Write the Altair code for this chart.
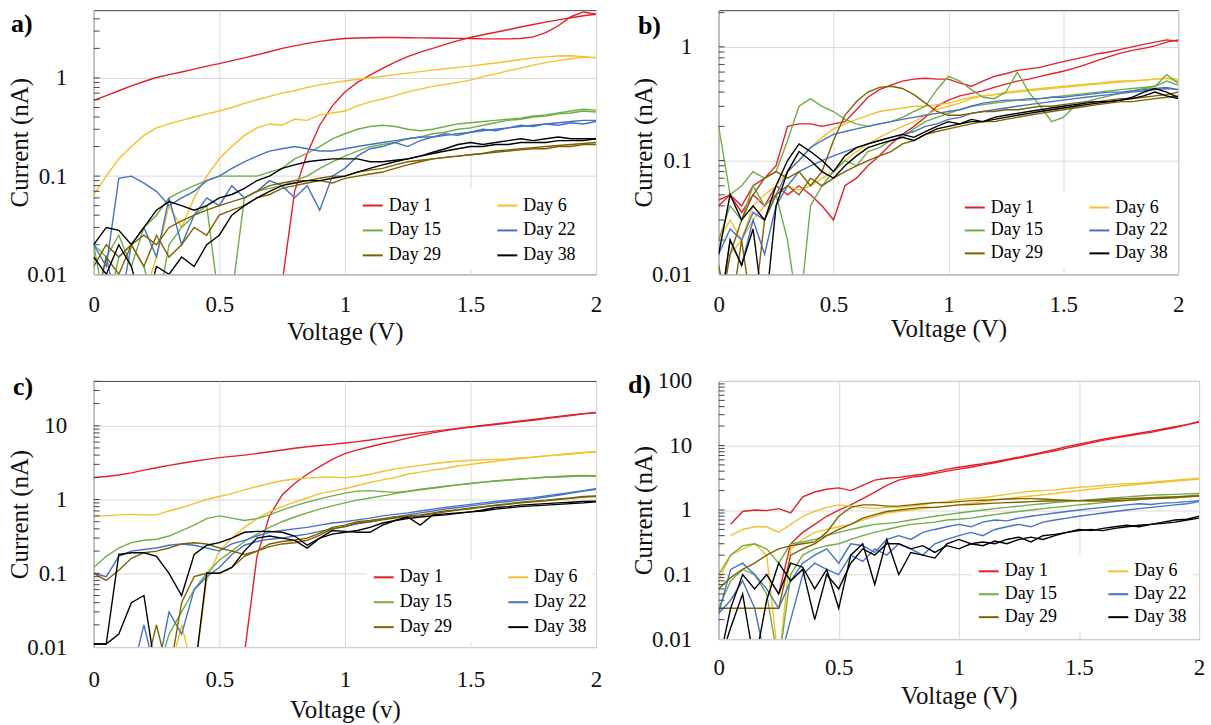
import altair as alt
import pandas as pd

FONT = "Liberation Serif, Times New Roman, DejaVu Serif, serif"
L = 0.004  # reading below the 0.01 floor (drawn off the bottom edge)

V = [0.0, 0.05, 0.1, 0.15, 0.2, 0.25, 0.3, 0.35, 0.4, 0.45,
     0.5, 0.55, 0.6, 0.65, 0.7, 0.75, 0.8, 0.85, 0.9, 0.95,
     1.0, 1.05, 1.1, 1.15, 1.2, 1.25, 1.3, 1.35, 1.4, 1.45,
     1.5, 1.55, 1.6, 1.65, 1.7, 1.75, 1.8, 1.85, 1.9, 1.95,
     2.0]

# legend reads row-wise: Day 1 | Day 6, Day 15 | Day 22, Day 29 | Day 38
LEGEND_ORDER = ["Day 1", "Day 15", "Day 29", "Day 6", "Day 22", "Day 38"]
LEGEND_COLORS = ["#e3202a", "#70ad47", "#7f6000", "#f2c12e", "#4472c4", "#000000"]
X_TICKS = [0, 0.5, 1, 1.5, 2]

# ---------------- panel a ----------------
A_D1_REV = [0.59, 0.66, 0.74, 0.83, 0.92, 1.01, 1.08, 1.15, 1.23, 1.32,
            1.40, 1.50, 1.60, 1.72, 1.85, 2.00, 2.12, 2.25, 2.36, 2.45,
            2.52, 2.55, 2.57, 2.58, 2.58, 2.57, 2.56, 2.55, 2.54, 2.53,
            2.52, 2.50, 2.50, 2.50, 2.52, 2.62, 2.90, 3.40, 4.20, 4.70,
            4.45]
A_D1_FWD = [L, L, L, L, L, L, L, L, L, L,
            L, L, L, L, L, 0.008, 0.07, 0.17, 0.33, 0.52,
            0.72, 0.90, 1.07, 1.25, 1.45, 1.65, 1.83, 2.00, 2.20, 2.40,
            2.58, 2.75, 2.92, 3.10, 3.30, 3.50, 3.70, 3.90, 4.10, 4.30,
            4.45]
A_D6_REV = [0.065, 0.10, 0.15, 0.20, 0.26, 0.31, 0.34, 0.37, 0.40, 0.43,
            0.46, 0.50, 0.55, 0.60, 0.65, 0.70, 0.74, 0.80, 0.85, 0.89,
            0.93, 0.97, 1.00, 1.04, 1.08, 1.12, 1.16, 1.20, 1.24, 1.28,
            1.32, 1.37, 1.42, 1.48, 1.54, 1.60, 1.64, 1.67, 1.68, 1.65,
            1.60]
A_D6_FWD = [L, L, L, L, 0.006, 0.015, 0.05, 0.03, 0.06, 0.10,
            0.15, 0.20, 0.26, 0.31, 0.34, 0.33, 0.38, 0.37, 0.42, 0.44,
            0.46, 0.52, 0.57, 0.61, 0.66, 0.72, 0.77, 0.82, 0.86, 0.90,
            0.95, 1.03, 1.10, 1.18, 1.26, 1.35, 1.43, 1.50, 1.57, 1.62,
            1.62]
A_D15_REV = [0.02, 0.015, 0.025, 0.012, 0.03, 0.04, 0.06, 0.07, 0.08, 0.09,
             0.10, 0.10, 0.10, 0.10, 0.11, 0.12, 0.15, 0.17, 0.20, 0.24,
             0.27, 0.30, 0.32, 0.33, 0.32, 0.30, 0.29, 0.30, 0.32, 0.34,
             0.35, 0.36, 0.37, 0.38, 0.39, 0.41, 0.42, 0.44, 0.46, 0.48,
             0.47]
A_D15_FWD = [0.02, L, 0.015, 0.02, 0.012, L, 0.02, 0.03, 0.04, 0.05,
             0.005, 0.006, 0.06, 0.07, 0.075, 0.08, 0.09, 0.10, 0.12, 0.14,
             0.16, 0.18, 0.20, 0.21, 0.22, 0.24, 0.25, 0.27, 0.28, 0.30,
             0.31, 0.33, 0.35, 0.37, 0.38, 0.40, 0.41, 0.43, 0.44, 0.46,
             0.45]
A_D22_REV = [0.02, 0.012, 0.095, 0.10, 0.085, 0.07, 0.05, 0.06, 0.07, 0.09,
             0.10, 0.12, 0.14, 0.16, 0.18, 0.19, 0.20, 0.19, 0.18, 0.18,
             0.19, 0.20, 0.21, 0.22, 0.23, 0.24, 0.25, 0.25, 0.26, 0.27,
             0.28, 0.29, 0.30, 0.31, 0.32, 0.33, 0.34, 0.35, 0.36, 0.37,
             0.37]
A_D22_FWD = [L, 0.015, L, 0.02, 0.03, 0.015, 0.06, 0.02, 0.04, 0.06,
             0.05, 0.08, 0.06, 0.07, 0.09, 0.08, 0.06, 0.08, 0.045, 0.10,
             0.12, 0.16, 0.19, 0.20, 0.22, 0.20, 0.23, 0.25, 0.27, 0.26,
             0.28, 0.30, 0.29, 0.31, 0.33, 0.32, 0.34, 0.33, 0.35, 0.34,
             0.36]
A_D29_REV = [0.012, 0.02, 0.015, 0.02, 0.025, 0.02, 0.03, 0.035, 0.04, 0.045,
             0.05, 0.055, 0.06, 0.07, 0.08, 0.085, 0.09, 0.09, 0.095, 0.10,
             0.10, 0.11, 0.115, 0.12, 0.13, 0.14, 0.145, 0.15, 0.155, 0.16,
             0.165, 0.17, 0.18, 0.185, 0.19, 0.195, 0.20, 0.205, 0.21, 0.215,
             0.22]
A_D29_FWD = [L, 0.015, 0.01, 0.02, 0.012, 0.025, 0.015, 0.02, 0.03, 0.025,
             0.04, 0.045, 0.05, 0.06, 0.065, 0.075, 0.08, 0.085, 0.09, 0.085,
             0.095, 0.10, 0.105, 0.11, 0.12, 0.13, 0.14, 0.15, 0.155, 0.16,
             0.165, 0.17, 0.175, 0.18, 0.185, 0.19, 0.19, 0.20, 0.20, 0.21,
             0.21]
A_D38_REV = [0.02, 0.03, 0.028, 0.02, 0.03, 0.045, 0.055, 0.05, 0.045, 0.05,
             0.06, 0.065, 0.075, 0.09, 0.10, 0.12, 0.13, 0.14, 0.145, 0.15,
             0.15, 0.15, 0.14, 0.14, 0.145, 0.15, 0.16, 0.175, 0.19, 0.21,
             0.22, 0.21, 0.22, 0.23, 0.24, 0.23, 0.24, 0.25, 0.24, 0.24,
             0.24]
A_D38_FWD = [0.015, 0.01, 0.02, 0.012, L, 0.012, 0.01, 0.015, 0.012, 0.02,
             0.025, 0.04, 0.05, 0.06, 0.07, 0.08, 0.085, 0.09, 0.09, 0.095,
             0.10, 0.11, 0.12, 0.13, 0.14, 0.15, 0.16, 0.17, 0.18, 0.19,
             0.20, 0.20, 0.21, 0.21, 0.22, 0.22, 0.22, 0.23, 0.23, 0.23,
             0.24]

# ---------------- panel b ----------------
B_D1_REV = [0.045, 0.05, 0.04, 0.06, 0.07, 0.09, 0.20, 0.21, 0.21, 0.20,
            0.21, 0.22, 0.28, 0.36, 0.42, 0.46, 0.50, 0.52, 0.53, 0.52,
            0.52, 0.48, 0.45, 0.50, 0.55, 0.58, 0.62, 0.64, 0.66, 0.70,
            0.74, 0.78, 0.82, 0.87, 0.90, 0.95, 1.00, 1.05, 1.10, 1.15,
            1.12]
B_D1_FWD = [0.04, 0.05, 0.035, 0.05, 0.04, 0.06, 0.05, 0.06, 0.05, 0.04,
            0.03, 0.06, 0.07, 0.09, 0.11, 0.14, 0.17, 0.20, 0.24, 0.30,
            0.34, 0.37, 0.39, 0.41, 0.44, 0.47, 0.50, 0.52, 0.55, 0.58,
            0.61, 0.65, 0.70, 0.76, 0.82, 0.88, 0.93, 0.97, 1.02, 1.10,
            1.15]
B_D6_REV = [0.02, 0.03, 0.02, 0.04, 0.05, 0.06, 0.08, 0.10, 0.13, 0.16,
            0.19, 0.21, 0.23, 0.25, 0.27, 0.28, 0.29, 0.30, 0.30, 0.31,
            0.32, 0.34, 0.36, 0.37, 0.38, 0.39, 0.40, 0.41, 0.42, 0.43,
            0.44, 0.45, 0.46, 0.47, 0.48, 0.49, 0.50, 0.51, 0.52, 0.53,
            0.50]
B_D6_FWD = [L, 0.015, 0.02, 0.03, 0.04, 0.05, 0.06, 0.055, 0.06, 0.07,
            0.08, 0.10, 0.12, 0.14, 0.16, 0.18, 0.20, 0.22, 0.25, 0.28,
            0.30, 0.32, 0.35, 0.37, 0.38, 0.40, 0.41, 0.42, 0.43, 0.44,
            0.45, 0.46, 0.47, 0.48, 0.49, 0.50, 0.50, 0.51, 0.52, 0.53,
            0.52]
B_D15_REV = [0.20, 0.05, 0.06, 0.08, 0.07, 0.08, 0.15, 0.30, 0.35, 0.30,
             0.27, 0.23, 0.21, 0.20, 0.21, 0.22, 0.24, 0.27, 0.30, 0.42,
             0.55, 0.50, 0.42, 0.36, 0.35, 0.40, 0.60, 0.40, 0.30, 0.22,
             0.24, 0.30, 0.33, 0.35, 0.37, 0.39, 0.41, 0.43, 0.45, 0.57,
             0.48]
B_D15_FWD = [0.02, 0.04, 0.03, 0.06, 0.04, 0.05, 0.02, L, 0.04, 0.06,
             0.08, 0.10, 0.09, 0.12, 0.13, 0.15, 0.16, 0.19, 0.22, 0.24,
             0.26, 0.28, 0.30, 0.31, 0.32, 0.33, 0.34, 0.34, 0.35, 0.36,
             0.37, 0.38, 0.39, 0.40, 0.41, 0.42, 0.43, 0.44, 0.45, 0.50,
             0.46]
B_D22_REV = [0.015, 0.025, 0.02, 0.035, 0.03, 0.05, 0.08, 0.10, 0.13, 0.15,
             0.17, 0.18, 0.19, 0.20, 0.21, 0.22, 0.23, 0.24, 0.25, 0.26,
             0.27, 0.28, 0.30, 0.32, 0.33, 0.34, 0.34, 0.35, 0.35, 0.36,
             0.36, 0.37, 0.38, 0.39, 0.40, 0.40, 0.41, 0.42, 0.43, 0.44,
             0.42]
B_D22_FWD = [L, 0.02, 0.012, 0.03, 0.015, 0.04, 0.06, 0.08, 0.09, 0.10,
             0.11, 0.12, 0.13, 0.14, 0.15, 0.16, 0.17, 0.18, 0.20, 0.21,
             0.23, 0.24, 0.26, 0.27, 0.28, 0.29, 0.30, 0.31, 0.32, 0.33,
             0.34, 0.35, 0.36, 0.37, 0.38, 0.39, 0.40, 0.41, 0.42, 0.43,
             0.42]
B_D29_REV = [L, 0.015, 0.03, 0.05, 0.07, 0.08, 0.07, 0.08, 0.06, 0.08,
             0.15, 0.25, 0.33, 0.40, 0.44, 0.45, 0.43, 0.38, 0.32, 0.27,
             0.25, 0.25, 0.26, 0.27, 0.27, 0.28, 0.28, 0.29, 0.30, 0.30,
             0.31, 0.32, 0.33, 0.33, 0.34, 0.35, 0.35, 0.36, 0.37, 0.38,
             0.40]
B_D29_FWD = [0.012, L, 0.02, L, 0.03, 0.05, 0.06, 0.05, 0.07, 0.06,
             0.07, 0.08, 0.09, 0.10, 0.11, 0.12, 0.14, 0.15, 0.17, 0.18,
             0.19, 0.20, 0.21, 0.22, 0.22, 0.23, 0.24, 0.25, 0.26, 0.27,
             0.28, 0.29, 0.30, 0.31, 0.32, 0.33, 0.33, 0.34, 0.35, 0.36,
             0.37]
B_D38_REV = [0.015, 0.05, 0.03, 0.04, 0.03, 0.06, 0.10, 0.14, 0.12, 0.10,
             0.08, 0.11, 0.13, 0.14, 0.15, 0.16, 0.17, 0.16, 0.18, 0.20,
             0.22, 0.21, 0.23, 0.22, 0.24, 0.25, 0.26, 0.27, 0.28, 0.29,
             0.30, 0.31, 0.32, 0.33, 0.33, 0.34, 0.36, 0.40, 0.43, 0.40,
             0.36]
B_D38_FWD = [L, 0.02, 0.012, 0.025, L, 0.04, 0.08, 0.12, 0.10, 0.08,
             0.07, 0.09, 0.11, 0.13, 0.14, 0.15, 0.16, 0.15, 0.17, 0.19,
             0.20, 0.21, 0.22, 0.22, 0.23, 0.24, 0.25, 0.26, 0.27, 0.28,
             0.29, 0.30, 0.31, 0.32, 0.33, 0.34, 0.35, 0.37, 0.40, 0.37,
             0.35]

# ---------------- panel c ----------------
C_D1_REV = [1.98, 2.05, 2.15, 2.30, 2.50, 2.70, 2.90, 3.10, 3.30, 3.50,
            3.70, 3.85, 4.00, 4.20, 4.45, 4.70, 4.95, 5.20, 5.40, 5.60,
            5.85, 6.10, 6.40, 6.80, 7.20, 7.60, 8.00, 8.40, 8.80, 9.20,
            9.60, 10.0, 10.4, 10.9, 11.4, 11.9, 12.5, 13.1, 13.8, 14.5,
            15.0]
C_D1_FWD = [L, L, L, L, L, L, L, L, L, L,
            L, L, 0.008, 0.17, 0.60, 1.15, 1.65, 2.20, 2.80, 3.50,
            4.20, 4.70, 5.20, 5.70, 6.20, 6.80, 7.40, 8.00, 8.60, 9.10,
            9.60, 10.1, 10.6, 11.1, 11.6, 12.2, 12.8, 13.4, 14.0, 14.6,
            15.2]
C_D6_REV = [0.60, 0.60, 0.62, 0.63, 0.62, 0.62, 0.70, 0.78, 0.88, 1.00,
            1.10, 1.20, 1.35, 1.50, 1.65, 1.80, 1.90, 1.95, 2.00, 2.00,
            1.98, 2.05, 2.20, 2.40, 2.60, 2.75, 2.90, 3.05, 3.20, 3.30,
            3.40, 3.45, 3.50, 3.55, 3.65, 3.75, 3.90, 4.00, 4.15, 4.30,
            4.40]
C_D6_FWD = [L, L, L, L, L, L, L, 0.02, L, 0.08,
            0.20, 0.30, 0.42, 0.55, 0.68, 0.80, 0.92, 1.05, 1.20, 1.30,
            1.40, 1.55, 1.70, 1.85, 2.00, 2.20, 2.35, 2.50, 2.65, 2.85,
            3.00, 3.15, 3.30, 3.45, 3.60, 3.75, 3.90, 4.05, 4.20, 4.35,
            4.50]
C_D15_REV = [0.12, 0.17, 0.22, 0.26, 0.28, 0.29, 0.32, 0.38, 0.45, 0.55,
             0.60, 0.56, 0.52, 0.55, 0.62, 0.72, 0.82, 0.92, 1.02, 1.12,
             1.22, 1.30, 1.32, 1.28, 1.25, 1.30, 1.38, 1.45, 1.52, 1.58,
             1.65, 1.72, 1.78, 1.84, 1.90, 1.95, 2.00, 2.02, 2.05, 2.10,
             2.05]
C_D15_FWD = [L, L, L, L, L, L, 0.015, 0.03, 0.06, 0.10,
             0.15, 0.20, 0.27, 0.34, 0.42, 0.50, 0.58, 0.66, 0.74, 0.82,
             0.90, 0.98, 1.05, 1.12, 1.20, 1.28, 1.35, 1.42, 1.50, 1.58,
             1.65, 1.72, 1.78, 1.84, 1.90, 1.95, 2.00, 2.05, 2.10, 2.12,
             2.10]
C_D22_REV = [0.10, 0.09, 0.17, 0.20, 0.21, 0.22, 0.24, 0.25, 0.24, 0.22,
             0.20, 0.25, 0.28, 0.32, 0.36, 0.38, 0.40, 0.42, 0.45, 0.48,
             0.50, 0.53, 0.56, 0.60, 0.63, 0.66, 0.70, 0.74, 0.78, 0.82,
             0.86, 0.90, 0.94, 0.98, 1.02, 1.06, 1.12, 1.18, 1.25, 1.32,
             1.40]
C_D22_FWD = [L, L, L, L, 0.02, L, 0.03, 0.015, 0.06, 0.09,
             0.12, 0.18, 0.24, 0.27, 0.29, 0.30, 0.32, 0.34, 0.37, 0.40,
             0.43, 0.47, 0.50, 0.54, 0.58, 0.62, 0.66, 0.70, 0.74, 0.78,
             0.82, 0.86, 0.90, 0.94, 0.98, 1.02, 1.08, 1.14, 1.22, 1.30,
             1.38]
C_D29_REV = [0.10, 0.08, 0.11, 0.16, 0.19, 0.20, 0.22, 0.25, 0.26, 0.25,
             0.22, 0.20, 0.18, 0.20, 0.25, 0.27, 0.28, 0.30, 0.35, 0.42,
             0.45, 0.50, 0.52, 0.55, 0.58, 0.60, 0.62, 0.66, 0.70, 0.73,
             0.77, 0.80, 0.84, 0.88, 0.92, 0.95, 0.98, 1.02, 1.05, 1.10,
             1.12]
C_D29_FWD = [L, L, L, L, L, 0.02, L, 0.04, 0.09, 0.10,
             0.10, 0.12, 0.17, 0.20, 0.23, 0.25, 0.26, 0.28, 0.33, 0.40,
             0.43, 0.48, 0.50, 0.53, 0.56, 0.58, 0.60, 0.64, 0.68, 0.72,
             0.75, 0.79, 0.83, 0.86, 0.90, 0.93, 0.96, 1.00, 1.04, 1.08,
             1.10]
C_D38_REV = [0.011, 0.011, 0.18, 0.19, 0.19, 0.17, 0.10, 0.05, 0.18, 0.24,
             0.26, 0.30, 0.36, 0.37, 0.37, 0.36, 0.32, 0.24, 0.30, 0.38,
             0.37, 0.36, 0.36, 0.45, 0.52, 0.58, 0.45, 0.62, 0.64, 0.66,
             0.68, 0.72, 0.78, 0.80, 0.84, 0.86, 0.88, 0.90, 0.92, 0.94,
             0.95]
C_D38_FWD = [0.011, 0.011, 0.015, 0.04, 0.05, L, L, L, L, 0.10,
             0.10, 0.12, 0.20, 0.30, 0.32, 0.30, 0.28, 0.22, 0.30, 0.34,
             0.36, 0.38, 0.42, 0.48, 0.52, 0.55, 0.58, 0.60, 0.62, 0.65,
             0.68, 0.70, 0.74, 0.77, 0.80, 0.82, 0.84, 0.86, 0.88, 0.90,
             0.93]

# ---------------- panel d ----------------
D_D1_REV = [None, 0.60, 0.95, 1.00, 0.98, 1.05, 0.90, 1.60, 1.90, 2.10,
            2.20, 2.00, 2.40, 2.90, 3.10, 3.20, 3.40, 3.60, 3.90, 4.30,
            4.60, 4.90, 5.20, 5.60, 6.10, 6.60, 7.20, 7.90, 8.70, 9.60,
            10.5, 11.5, 12.5, 13.5, 14.5, 15.5, 16.7, 18.0, 19.5, 21.0,
            23.0]
D_D1_FWD = [None, None, None, None, None, 0.05, 0.30, 0.45, 0.60, 0.80,
            1.00, 1.20, 1.50, 1.90, 2.40, 2.90, 3.20, 3.40, 3.70, 4.00,
            4.30, 4.60, 5.00, 5.40, 5.90, 6.40, 7.00, 7.60, 8.30, 9.10,
            10.0, 11.0, 12.0, 13.0, 14.0, 15.0, 16.0, 17.5, 19.0, 21.0,
            23.5]
D_D6_REV = [None, 0.40, 0.50, 0.55, 0.55, 0.45, 0.60, 0.80, 0.95, 1.10,
            1.20, 1.15, 1.10, 1.05, 1.10, 1.10, 1.15, 1.20, 1.30, 1.35,
            1.45, 1.50, 1.55, 1.65, 1.75, 1.85, 1.95, 2.00, 2.05, 2.15,
            2.25, 2.30, 2.40, 2.50, 2.55, 2.60, 2.70, 2.80, 2.90, 3.00,
            3.10]
D_D6_FWD = [0.08, 0.20, 0.25, 0.30, 0.20, L, 0.25, 0.35, 0.45, 0.50,
            0.55, 0.60, 0.70, 0.80, 0.90, 0.95, 1.00, 1.05, 1.10, 1.15,
            1.20, 1.28, 1.35, 1.42, 1.50, 1.58, 1.65, 1.72, 1.80, 1.90,
            2.00, 2.10, 2.20, 2.30, 2.40, 2.50, 2.60, 2.70, 2.80, 2.90,
            3.00]
D_D15_REV = [0.10, 0.20, 0.28, 0.30, 0.25, 0.15, 0.30, 0.32, 0.35, 0.40,
             0.45, 0.50, 0.55, 0.60, 0.62, 0.65, 0.70, 0.75, 0.80, 0.85,
             0.90, 0.95, 1.00, 1.05, 1.10, 1.15, 1.20, 1.25, 1.30, 1.35,
             1.40, 1.45, 1.50, 1.55, 1.60, 1.65, 1.70, 1.72, 1.75, 1.78,
             1.80]
D_D15_FWD = [0.03, 0.08, 0.12, 0.10, 0.05, L, 0.10, 0.20, 0.25, 0.28,
             0.30, 0.35, 0.40, 0.45, 0.50, 0.55, 0.60, 0.62, 0.65, 0.70,
             0.72, 0.75, 0.80, 0.85, 0.90, 0.95, 1.00, 1.05, 1.10, 1.15,
             1.20, 1.25, 1.30, 1.35, 1.40, 1.45, 1.50, 1.55, 1.60, 1.65,
             1.70]
D_D22_REV = [0.025, 0.12, 0.15, 0.10, 0.06, 0.03, 0.08, 0.15, 0.20, 0.25,
             0.15, 0.30, 0.28, 0.22, 0.35, 0.40, 0.35, 0.45, 0.50, 0.55,
             0.60, 0.55, 0.65, 0.70, 0.68, 0.75, 0.80, 0.85, 0.90, 0.95,
             1.00, 1.05, 1.10, 1.15, 1.20, 1.25, 1.22, 1.28, 1.30, 1.35,
             1.40]
D_D22_FWD = [0.025, 0.04, 0.08, 0.03, L, L, 0.02, 0.10, 0.15, 0.12,
             0.10, 0.20, 0.16, 0.25, 0.20, 0.30, 0.25, 0.20, 0.30, 0.35,
             0.40, 0.45, 0.40, 0.50, 0.55, 0.60, 0.55, 0.65, 0.70, 0.75,
             0.80, 0.85, 0.90, 0.95, 1.00, 1.05, 1.10, 1.15, 1.20, 1.25,
             1.35]
D_D29_REV = [0.06, 0.09, 0.12, 0.15, 0.20, 0.25, 0.28, 0.30, 0.32, 0.45,
             0.80, 1.10, 1.20, 1.20, 1.15, 1.15, 1.20, 1.25, 1.30, 1.30,
             1.35, 1.40, 1.42, 1.45, 1.48, 1.50, 1.50, 1.48, 1.45, 1.42,
             1.40, 1.38, 1.38, 1.40, 1.42, 1.45, 1.50, 1.52, 1.55, 1.60,
             1.65]
D_D29_FWD = [0.03, 0.03, 0.03, 0.03, 0.03, 0.03, 0.20, 0.25, 0.30, 0.40,
             0.50, 0.60, 0.75, 0.85, 0.95, 1.00, 1.05, 1.10, 1.10, 1.15,
             1.20, 1.22, 1.25, 1.28, 1.30, 1.32, 1.35, 1.38, 1.38, 1.40,
             1.40, 1.42, 1.45, 1.48, 1.50, 1.52, 1.55, 1.58, 1.60, 1.62,
             1.65]
D_D38_REV = [L, 0.03, 0.10, 0.06, 0.10, 0.05, 0.15, 0.13, 0.06, 0.12,
             0.03, 0.20, 0.30, 0.07, 0.35, 0.10, 0.22, 0.20, 0.18, 0.30,
             0.35, 0.30, 0.32, 0.30, 0.35, 0.38, 0.32, 0.40, 0.42, 0.45,
             0.50, 0.48, 0.52, 0.55, 0.58, 0.55, 0.60, 0.65, 0.70, 0.72,
             0.80]
D_D38_FWD = [L, 0.015, 0.05, L, 0.04, 0.15, 0.08, 0.12, 0.02, 0.10,
             0.06, 0.15, 0.25, 0.20, 0.30, 0.30, 0.25, 0.28, 0.22, 0.28,
             0.25, 0.30, 0.28, 0.33, 0.30, 0.35, 0.38, 0.35, 0.40, 0.45,
             0.48, 0.50, 0.48, 0.52, 0.55, 0.58, 0.60, 0.62, 0.65, 0.70,
             0.75]

# log-axis tick marks (minor + major) per panel
TICKS_A = [0.02, 0.03, 0.04, 0.05, 0.06, 0.07, 0.08, 0.09, 0.1,
           0.2, 0.3, 0.4, 0.5, 0.6, 0.7, 0.8, 0.9, 1, 2, 3, 4]
TICKS_B = [0.02, 0.03, 0.04, 0.05, 0.06, 0.07, 0.08, 0.09, 0.1,
           0.2, 0.3, 0.4, 0.5, 0.6, 0.7, 0.8, 0.9, 1, 2]
TICKS_C = [0.02, 0.03, 0.04, 0.05, 0.06, 0.07, 0.08, 0.09, 0.1,
           0.2, 0.3, 0.4, 0.5, 0.6, 0.7, 0.8, 0.9, 1,
           2, 3, 4, 5, 6, 7, 8, 9, 10, 20, 30, 40]
TICKS_D = [0.02, 0.03, 0.04, 0.05, 0.06, 0.07, 0.08, 0.09, 0.1,
           0.2, 0.3, 0.4, 0.5, 0.6, 0.7, 0.8, 0.9, 1,
           2, 3, 4, 5, 6, 7, 8, 9, 10, 20, 30, 40, 50, 60, 70, 80, 90]


def frame(series):
    rows = []
    for day, fwd, rev in series:
        for branch, vals in (("fwd", fwd), ("rev", rev)):
            for v, i in zip(V, vals):
                if i is not None:
                    rows.append({"V": v, "I": i, "day": day, "branch": branch})
    return pd.DataFrame(rows)


def panel(df, W, H, ydom, yvals, ticks, xtitle, lab, lab_xy, leg_xy,
          colpad, rowpad, xlabpad, xtitle_y, ytitle_x, box):
    bl, bt, br, bb = box
    x = alt.X("V:Q", scale=alt.Scale(domain=[0, 2], nice=False, zero=False),
              axis=alt.Axis(values=X_TICKS, format="~g", title=xtitle,
                            labelPadding=xlabpad, labelFlush=False,
                            titleY=xtitle_y, titleBaseline="middle"))
    y = alt.Y("I:Q", scale=alt.Scale(type="log", domain=ydom, nice=False),
              axis=alt.Axis(values=yvals, format="~g", title="Current (nA)",
                            labelPadding=27, titleX=ytitle_x, titleY=H / 2,
                            titleAngle=270, titleBaseline="middle",
                            titleAlign="center"))
    lines = alt.Chart(df).mark_line(strokeWidth=1.4, clip=True).encode(
        x=x, y=y,
        color=alt.Color("day:N",
                        scale=alt.Scale(domain=LEGEND_ORDER, range=LEGEND_COLORS),
                        legend=alt.Legend(
                            title=None, orient="none", legendX=leg_xy[0],
                            legendY=leg_xy[1], columns=2, symbolType="stroke",
                            symbolStrokeWidth=2, symbolSize=400,
                            labelFont=FONT, labelFontSize=18,
                            labelColor="black", fillColor="white",
                            padding=6, rowPadding=rowpad,
                            columnPadding=colpad, labelOffset=5)),
        detail="branch:N")
    tk = alt.Chart(pd.DataFrame({"I": ticks})).mark_rule(
        color="#444444", strokeWidth=1).encode(
        y=alt.Y("I:Q", title="Current (nA)"),
        x=alt.value(0), x2=alt.value(6))
    label = alt.Chart(pd.DataFrame({"t": [lab]})).mark_text(
        align="left", baseline="middle", font=FONT, fontSize=26,
        fontWeight="bold", color="black").encode(
        text="t:N", x=alt.value(lab_xy[0]), y=alt.value(lab_xy[1]))
    bounds = alt.Chart(pd.DataFrame({"k": [0]})).mark_rect(opacity=0).encode(
        x=alt.value(-bl), x2=alt.value(W + br),
        y=alt.value(-bt), y2=alt.value(H + bb))
    return alt.layer(bounds, lines, tk, label).properties(width=W, height=H)


df_a = frame([("Day 1", A_D1_FWD, A_D1_REV), ("Day 6", A_D6_FWD, A_D6_REV),
              ("Day 15", A_D15_FWD, A_D15_REV), ("Day 22", A_D22_FWD, A_D22_REV),
              ("Day 29", A_D29_FWD, A_D29_REV), ("Day 38", A_D38_FWD, A_D38_REV)])
df_b = frame([("Day 1", B_D1_FWD, B_D1_REV), ("Day 6", B_D6_FWD, B_D6_REV),
              ("Day 15", B_D15_FWD, B_D15_REV), ("Day 22", B_D22_FWD, B_D22_REV),
              ("Day 29", B_D29_FWD, B_D29_REV), ("Day 38", B_D38_FWD, B_D38_REV)])
df_c = frame([("Day 1", C_D1_FWD, C_D1_REV), ("Day 6", C_D6_FWD, C_D6_REV),
              ("Day 15", C_D15_FWD, C_D15_REV), ("Day 22", C_D22_FWD, C_D22_REV),
              ("Day 29", C_D29_FWD, C_D29_REV), ("Day 38", C_D38_FWD, C_D38_REV)])
df_d = frame([("Day 1", D_D1_FWD, D_D1_REV), ("Day 6", D_D6_FWD, D_D6_REV),
              ("Day 15", D_D15_FWD, D_D15_REV), ("Day 22", D_D22_FWD, D_D22_REV),
              ("Day 29", D_D29_FWD, D_D29_REV), ("Day 38", D_D38_FWD, D_D38_REV)])

# box = invisible layout frame (left, top, right, bottom) around each plot;
# the grid aligns plot origins at x=93 / 718 and y=8 / 378
pa = panel(df_a, 504, 265, [0.01, 4.9], [0.01, 0.1, 1], TICKS_A, "Voltage (V)",
           "a)", (-83, 14), (263, 179), 52, 5, 19, 57, -74, (93, 8, 10, 87))
pb = panel(df_b, 461, 265, [0.01, 2.1], [0.01, 0.1, 1], TICKS_B, "Voltage (V)",
           "b)", (-81, 16), (240, 181), 42, 3, 19, 54, -75, (111, 8, 32, 87))
pc = panel(df_c, 504, 267, [0.01, 40.5], [0.01, 0.1, 1, 10], TICKS_C, "Voltage (v)",
           "c)", (-81, 6), (274, 180), 52, 5, 22, 63, -74, (93, 18, 10, 80))
pd_ = panel(df_d, 482, 259, [0.01, 100], [0.01, 0.1, 1, 10, 100], TICKS_D,
            "Voltage (V)", "d)", (-91, 4), (254, 174), 47, 3, 18, 57, -75,
            (111, 18, 11, 88))

chart = alt.concat(pa, pb, pc, pd_, columns=2, spacing=0, align="each",
                   bounds="full", padding=0).resolve_scale(
    x="independent", y="independent", color="independent").resolve_legend(
    color="independent").configure(font=FONT).configure_view(
    stroke="#404040", strokeWidth=1).configure_axis(
    labelFont=FONT, titleFont=FONT, labelFontSize=23, titleFontSize=25,
    titleFontWeight="normal", labelColor="#111111", titleColor="#111111",
    gridColor="#d9d9d9", gridWidth=1, domain=False, ticks=False).configure_legend(
    labelFont=FONT).properties(background="white")

chart.save("out.html", embed_options={"renderer": "svg", "actions": False})
